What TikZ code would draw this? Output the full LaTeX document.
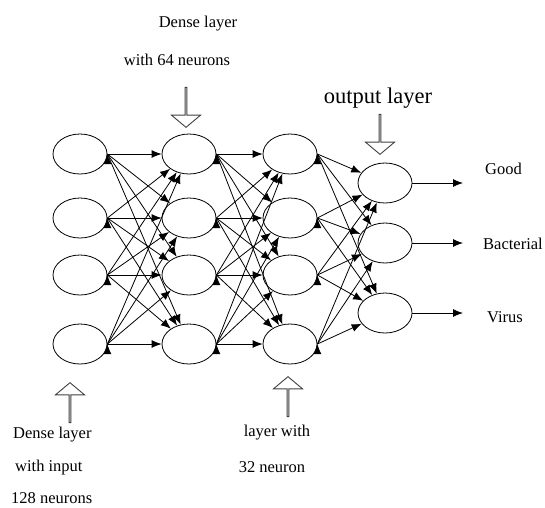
\documentclass[tikz,border=0pt]{standalone}
\usepackage{fontspec}
\setmainfont{Liberation Serif}
\usetikzlibrary{shapes.geometric,shapes.arrows,arrows.meta}

\tikzset{
  neuron/.style={draw,ellipse,minimum width=54pt,minimum height=40pt,line width=0.8pt},
  link/.style={-{Latex[length=10pt,width=8pt]},line width=0.8pt},
  hollow/.style={draw=black!75,single arrow,single arrow head extend=7.5pt,
    single arrow tip angle=100,minimum height=40pt,minimum width=29pt,
    inner sep=0pt,line width=0.9pt},
  lbl/.style={font=\fontsize{16.5}{19}\selectfont,inner sep=0pt},
}

\begin{document}
\begin{tikzpicture}[x=1pt,y=-1pt]
    \useasboundingbox (0,0) rectangle (545,507);

    % input layer
    \node[neuron] (a1) at (80,154) {};
    \node[neuron] (a2) at (80,218) {};
    \node[neuron] (a3) at (80,275) {};
    \node[neuron] (a4) at (80,344) {};

    % 64 neurons
    \node[neuron] (b1) at (189,154) {};
    \node[neuron] (b2) at (189,218) {};
    \node[neuron] (b3) at (189,275) {};
    \node[neuron] (b4) at (189,344) {};

    % 32 neurons
    \node[neuron] (c1) at (290,154) {};
    \node[neuron] (c2) at (290,218) {};
    \node[neuron] (c3) at (290,275) {};
    \node[neuron] (c4) at (290,344) {};

    % output
    \node[neuron] (o1) at (385,183) {};
    \node[neuron] (o2) at (385,243) {};
    \node[neuron] (o3) at (385,313) {};

    \draw[link] (a1.east) edge (b1) edge (b2) edge (b3) edge (b4);
    \draw[link] (a2.east) edge (b1) edge (b2) edge (b3) edge (b4);
    \draw[link] (a3.east) edge (b1) edge (b2) edge (b3) edge (b4);
    \draw[link] (a4.east) edge (b1) edge (b2) edge (b3) edge (b4);

    \draw[link] (b1.east) edge (c1) edge (c2) edge (c3) edge (c4);
    \draw[link] (b2.east) edge (c1) edge (c2) edge (c3) edge (c4);
    \draw[link] (b3.east) edge (c1) edge (c2) edge (c3) edge (c4);
    \draw[link] (b4.east) edge (c1) edge (c2) edge (c3) edge (c4);

    \draw[link] (c1.east) edge (o1) edge (o2) edge (o3);
    \draw[link] (c2.east) edge (o1) edge (o2) edge (o3);
    \draw[link] (c3.east) edge (o1) edge (o2) edge (o3);
    \draw[link] (c4.east) edge (o1) edge (o2) edge (o3);

    \coordinate (e1) at (463,183);
    \coordinate (e2) at (463,243);
    \coordinate (e3) at (463,313);
    \draw[link] (o1) -- (e1);
    \draw[link] (o2) -- (e2);
    \draw[link] (o3) -- (e3);

    \node[lbl,anchor=west] (good) at (485,169) {Good};
    \node[lbl,anchor=west] (bact) at (483,244) {Bacterial};
    \node[lbl,anchor=west] (vir) at (487,317) {Virus};

    % captions
    \node[lbl] (t1) at (198,24) {Dense layer};
    \node[lbl] (t2) at (177,60) {with 64 neurons};
    \node[hollow,rotate=-90] (d1) at (186,107) {};

    \node[font=\fontsize{22.5}{24}\selectfont,inner sep=0pt] (t3) at (378,98) {output layer};
    \node[hollow,rotate=-90] (d2) at (380,134) {};

    \node[hollow,rotate=90] (u1) at (70,403) {};
    \node[lbl,anchor=west] (t4) at (13,435) {Dense layer};
    \node[lbl,anchor=west] (t5) at (15,468) {with input};
    \node[lbl,anchor=west] (t6) at (11,498) {128 neurons};

    \node[hollow,rotate=90] (u2) at (288,397) {};
    \node[lbl] (t7) at (277,433) {layer with};
    \node[lbl] (t8) at (272,467) {32 neuron};

\end{tikzpicture}
\end{document}
